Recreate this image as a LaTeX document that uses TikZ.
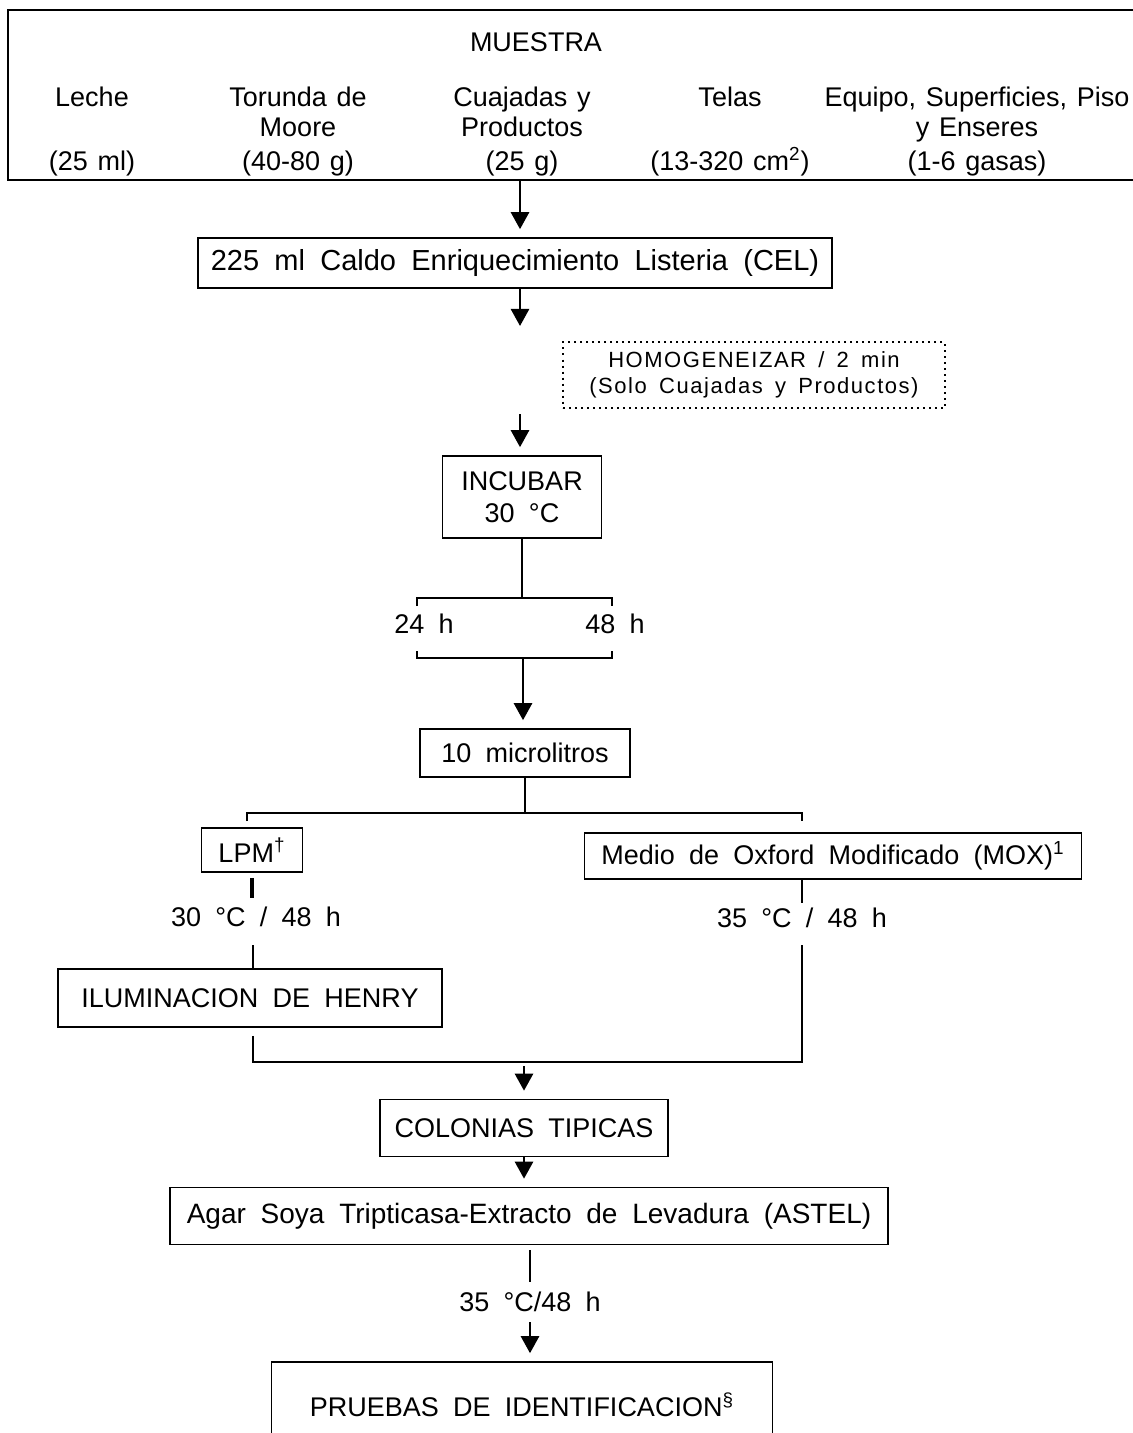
\documentclass[tikz,border=0pt]{standalone}
\usepackage{fontspec}
\setmainfont{Liberation Sans}[WordSpace=1.9]
\newfontfamily\chica{Liberation Sans}[LetterSpace=7,WordSpace=1.6]
\newfontfamily\muestra{Liberation Sans}[WordSpace=1.3]
\usetikzlibrary{arrows.meta}
\usetikzlibrary{calc}
\tikzset{
  caja/.style={draw, line width=0.8pt, inner sep=0pt},
  dato/.style={anchor=base, font=\muestra\fontsize{13.5}{16}\selectfont},
  punteada/.style={draw, dotted, line width=1pt, inner sep=0pt, align=center,
    font=\chica\fontsize{11}{13}\selectfont},
  flecha/.style={line width=1.3pt, -{Triangle[width=9pt,length=8.5pt]}, shorten >=4pt},
  linea/.style={line width=0.7pt},
}

\begin{document}
\begin{tikzpicture}[x=0.5pt, y=-0.5pt, every node/.style={font=\fontsize{13.5}{16}\selectfont}]
			\useasboundingbox (0,0) rectangle (1132,1433);
			% muestra
			\node[caja, minimum width=566pt, minimum height=85pt] (M) at (574,95) {};
			\node[dato] (titulo) at (536,52) {MUESTRA};
			\node[dato] (leche) at (92,107) {Leche};
			\node[dato] (torunda) at (298,107) {Torunda de};
			\node[dato] (moore) at (298,137) {Moore};
			\node[dato] (cuaj) at (522,107) {Cuajadas y};
			\node[dato] (prod) at (522,137) {Productos};
			\node[dato] (telas) at (730,107) {Telas};
			\node[dato] (equipo) at (977,107) {Equipo, Superficies, Piso};
			\node[dato] (enseres) at (977,137) {y Enseres};
			\node[dato] (q1) at (92,171) {(25 ml)};
			\node[dato] (q2) at (298,171) {(40-80 g)};
			\node[dato] (q3) at (522,171) {(25 g)};
			\node[dato] (q4) at (730,171) {(13-320 cm\textsuperscript{2})};
			\node[dato] (q5) at (977,171) {(1-6 gasas)};
			% pasos
			\node[caja, minimum width=317pt, minimum height=25pt, font=\fontsize{14.5}{16}\selectfont] (CEL) at (515,263) {225 ml Caldo Enriquecimiento Listeria (CEL)};
			\node[punteada, minimum width=191pt, minimum height=32.5pt] (homog) at (754,375) {HOMOGENEIZAR / 2 min\\(Solo Cuajadas y Productos)};
			\node[caja, minimum width=79.5pt, minimum height=41pt, align=center] (incubar) at (522,497) {INCUBAR\\30 °C};
			\node[anchor=base] (t24) at (424,633) {24 h};
			\node[anchor=base] (t48) at (615,633) {48 h};
			\node[caja, minimum width=105pt, minimum height=24pt] (micro) at (525,753) {10 microlitros};
			\node[caja, minimum width=50.5pt, minimum height=22pt] (lpm) at (252,850) {LPM\textsuperscript{†}};
			\node[caja, minimum width=248.5pt, minimum height=23pt] (mox) at (833,856) {Medio de Oxford Modificado (MOX)\textsuperscript{1}};
			\node[anchor=base] (tlpm) at (256,926) {30 °C / 48 h};
			\node[anchor=base] (tmox) at (802,927) {35 °C / 48 h};
			\node[caja, minimum width=192pt, minimum height=29pt] (henry) at (250,998) {ILUMINACION DE HENRY};
			\node[caja, minimum width=144pt, minimum height=28.5pt] (colonias) at (524,1128) {COLONIAS TIPICAS};
			\node[caja, minimum width=359pt, minimum height=28.5pt, font=\fontsize{14}{16}\selectfont] (astel) at (529,1216) {Agar Soya Tripticasa-Extracto de Levadura (ASTEL)};
			\node[anchor=base] (tastel) at (530,1311) {35 °C/48 h};
			\node[caja, minimum width=250.5pt, minimum height=43pt] (pruebas) at (522,1405) {PRUEBAS DE IDENTIFICACION\textsuperscript{§}};
			% puntos de union
			\coordinate (a1) at (520,334);
			\coordinate (a2) at (520,414);
			\coordinate (b1) at (522,598); \coordinate (b2) at (523,658);
			\coordinate (bi1) at (417,598); \coordinate (bd1) at (612,598);
			\coordinate (bi2) at (417,658); \coordinate (bd2) at (612,658);
			\coordinate (r1) at (525,813); \coordinate (ri) at (247,813); \coordinate (rd) at (802,813);
			\coordinate (l1) at (252,898); \coordinate (l2) at (253,945);
			\coordinate (m1) at (802,903); \coordinate (m2) at (802,945);
			\coordinate (u1) at (253,1062); \coordinate (u2) at (802,1062); \coordinate (u3) at (524,1066);
			\coordinate (s1) at (530,1282); \coordinate (s2) at (530,1322);
			% conectores
			\draw[flecha] (M.south -| a1) -- (a1 |- CEL.north);
			\draw[flecha] (CEL.south -| a1) -- (a1); \draw[flecha] (a2) -- (a2 |- incubar.north);
			\draw[linea] (incubar.south) -- (b1);
			\draw[linea] ($(bi1)+(0,8)$) -- (bi1) -- (bd1) -- ($(bd1)+(0,8)$);
			\draw[linea] ($(bi2)+(0,-7)$) -- (bi2) -- (bd2) -- ($(bd2)+(0,-7)$);
			\draw[flecha] (b2) -- (b2 |- micro.north);
			\draw[linea] (micro.south) -- (r1);
			\draw[linea] ($(ri)+(0,8)$) -- (ri) -- (rd) -- ($(rd)+(0,8)$);
			\draw[line width=2pt] ($(lpm.south)+(0,5)$) -- (l1);
			\draw[linea] (l2) -- (l2 |- henry.north);
			\draw[linea] (m1 |- mox.south) -- (m1);
			\draw[linea] ($(henry.south)+(3,8)$) -- (u1) -- (u2) -- (m2);
			\draw[flecha] (u3) -- (u3 |- colonias.north);
			\draw[flecha] (colonias.south) -- (colonias.south |- astel.north);
			\draw[linea] ($(astel.south)+(1,5)$) -- (s1);
			\draw[flecha] (s2) -- (s2 |- pruebas.north);
		\end{tikzpicture}
\end{document}
